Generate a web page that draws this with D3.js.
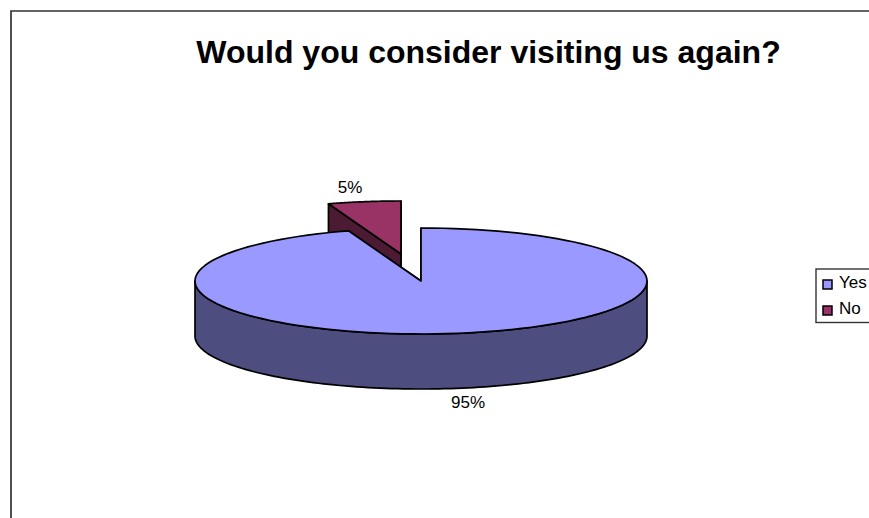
<!DOCTYPE html>
<html>
<head>
<meta charset="utf-8">
<script src="https://cdn.jsdelivr.net/npm/d3@7"></script>
<style>
  html, body { margin: 0; padding: 0; background: #fff; overflow: hidden; }
  text { font-family: "Liberation Sans", Arial, sans-serif; fill: #000; }
</style>
</head>
<body>
<div id="chart"></div>
<script>
const W = 869, H = 518;

const title = 'Would you consider visiting us again?';
const categories = ['Yes', 'No'];
const values = [94.8, 5.2];
const labels = ['95%', '5%'];
const topColors = ['#9999ff', '#993366'];
const sideColors = ['#4d4d80', '#4d1a33'];

const cx = 421, cy = 281, rx = 226, ry = 53, depth = 55;
const explode = { Yes: [0, 0], No: [-20, -27] };

const svg = d3.select('#chart').append('svg')
  .attr('width', W).attr('height', H)
  .attr('viewBox', `0 0 ${W} ${H}`);

// Chart frame, runs off the right and bottom edges
svg.append('path')
  .attr('d', `M11,${H + 2} V11 H${W + 2}`)
  .attr('fill', 'none')
  .attr('stroke', '#333')
  .attr('stroke-width', 1.7);

svg.append('text')
  .attr('x', 488.5).attr('y', 63)
  .attr('text-anchor', 'middle')
  .attr('font-size', '32px')
  .attr('font-weight', 'bold')
  .text(title);

// Pie angles, clockwise from 12 o'clock, in data order
const pie = d3.pie().sort(null).value(d => d);
const slices = pie(values).map((s, i) => ({ ...s, name: categories[i], i }));

const sx = d3.scaleLinear().domain([-1, 1]).range([cx - rx, cx + rx]);
const sy = d3.scaleLinear().domain([-1, 1]).range([cy - ry, cy + ry]);

const point = (s, a, r = 1, dz = 0) => {
  const [ox, oy] = explode[s.name];
  return [sx(r * Math.sin(a)) + ox, sy(-r * Math.cos(a)) + oy + dz];
};
const arcPoints = (s, a0, a1, dz = 0) =>
  d3.range(0, 121).map(k => point(s, a0 + (a1 - a0) * k / 120, 1, dz));

const line = d3.line();
const stroke = sel => sel
  .attr('stroke', '#000')
  .attr('stroke-width', 1.7)
  .attr('stroke-linejoin', 'round');

function drawSlice(s) {
  const g = svg.append('g');
  const apex = point(s, 0, 0);
  const apexLow = point(s, 0, 0, depth);

  // Cut faces
  [s.startAngle, s.endAngle].forEach(a => {
    const p = point(s, a);
    const pLow = point(s, a, 1, depth);
    g.append('path')
      .attr('d', line([apex, p, pLow, apexLow]) + 'Z')
      .attr('fill', sideColors[s.i])
      .call(stroke);
  });

  // Outer wall, only the part facing the viewer
  const a0 = Math.max(s.startAngle, Math.PI / 2);
  const a1 = Math.min(s.endAngle, Math.PI * 1.5);
  if (a1 > a0) {
    const wall = arcPoints(s, a0, a1).concat(arcPoints(s, a1, a0, depth));
    g.append('path')
      .attr('d', line(wall) + 'Z')
      .attr('fill', sideColors[s.i])
      .call(stroke);
  }

  // Top face
  const top = [apex].concat(arcPoints(s, s.startAngle, s.endAngle));
  g.append('path')
    .attr('d', line(top) + 'Z')
    .attr('fill', topColors[s.i])
    .call(stroke);
}

// The small slice sits behind the large one
slices.slice().reverse().forEach(drawSlice);

// Data labels
const labelPos = [[468, 408], [350, 193]];
labels.forEach((t, i) => {
  svg.append('text')
    .attr('x', labelPos[i][0]).attr('y', labelPos[i][1])
    .attr('text-anchor', 'middle')
    .attr('font-size', '17px')
    .text(t);
});

// Legend, cut off by the right edge
svg.append('rect')
  .attr('x', 816).attr('y', 269)
  .attr('width', 70).attr('height', 53.5)
  .attr('fill', '#fff')
  .attr('stroke', '#333')
  .attr('stroke-width', 1.4);

categories.forEach((c, i) => {
  const y = 284 + i * 26;
  svg.append('rect')
    .attr('x', 823).attr('y', y - 4)
    .attr('width', 9).attr('height', 9)
    .attr('fill', topColors[i])
    .attr('stroke', '#000')
    .attr('stroke-width', 1.5);
  svg.append('text')
    .attr('x', 839).attr('y', y + 4)
    .attr('font-size', '17px')
    .text(c);
});
</script>
</body>
</html>
